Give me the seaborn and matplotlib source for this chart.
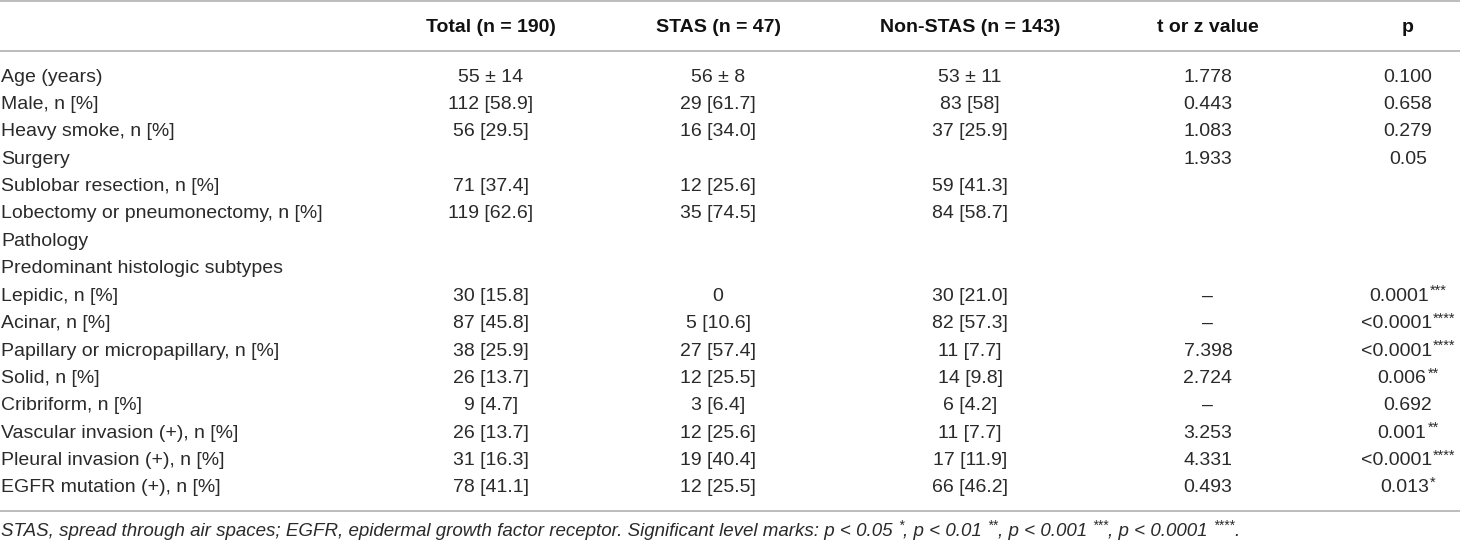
import matplotlib
matplotlib.use("Agg")
import matplotlib.pyplot as plt
import seaborn as sns

sns.set_theme(style="white")
plt.rcParams['font.family'] = ['Liberation Sans', 'DejaVu Sans']

# ---------------- data ----------------
headers = ["Total (n = 190)", "STAS (n = 47)", "Non-STAS (n = 143)", "t or z value", "p"]
row_labels = [
    "Age (years)", "Male, n [%]", "Heavy smoke, n [%]", "Surgery",
    "Sublobar resection, n [%]", "Lobectomy or pneumonectomy, n [%]",
    "Pathology", "Predominant histologic subtypes", "Lepidic, n [%]",
    "Acinar, n [%]", "Papillary or micropapillary, n [%]", "Solid, n [%]",
    "Cribriform, n [%]", "Vascular invasion (+), n [%]",
    "Pleural invasion (+), n [%]", "EGFR mutation (+), n [%]",
]
total = ["55 ± 14", "112 [58.9]", "56 [29.5]", "", "71 [37.4]", "119 [62.6]", "", "",
         "30 [15.8]", "87 [45.8]", "38 [25.9]", "26 [13.7]", "9 [4.7]", "26 [13.7]",
         "31 [16.3]", "78 [41.1]"]
stas = ["56 ± 8", "29 [61.7]", "16 [34.0]", "", "12 [25.6]", "35 [74.5]", "", "",
        "0", "5 [10.6]", "27 [57.4]", "12 [25.5]", "3 [6.4]", "12 [25.6]",
        "19 [40.4]", "12 [25.5]"]
non_stas = ["53 ± 11", "83 [58]", "37 [25.9]", "", "59 [41.3]", "84 [58.7]", "", "",
            "30 [21.0]", "82 [57.3]", "11 [7.7]", "14 [9.8]", "6 [4.2]", "11 [7.7]",
            "17 [11.9]", "66 [46.2]"]
stat_values = ["1.778", "0.443", "1.083", "1.933", "", "", "", "",
               "–", "–", "7.398", "2.724", "–", "3.253", "4.331", "0.493"]
p_values = ["0.100", "0.658", "0.279", "0.05", "", "", "", "",
            "0.0001", "<0.0001", "<0.0001", "0.006", "0.692", "0.001", "<0.0001", "0.013"]
p_marks = ["", "", "", "", "", "", "", "",
           "***", "****", "****", "**", "", "**", "****", "*"]
footnote_parts = [
    ("STAS, spread through air spaces; EGFR, epidermal growth factor receptor. "
     "Significant level marks: p < 0.05 ", False), ("*", True), (", p < 0.01 ", False),
    ("**", True), (", p < 0.001 ", False), ("***", True), (", p < 0.0001 ", False),
    ("****", True), (".", False),
]

# ---------------- layout ----------------
W, H = 1460, 543
fig = plt.figure(figsize=(W / 100, H / 100), dpi=100)
ax = fig.add_axes([0, 0, 1, 1])
ax.set_xlim(0, W)
ax.set_ylim(H, 0)
ax.axis("off")

col_x = [491, 718, 970, 1208, 1408]
label_x = 1
header_y = 27
row_y0 = 77
row_dy = 27.4
line_color = "#b0b0b0"
txt_color = "#2a2a2a"
fs = 14
fs_sup = 10.5

for yl in (1, 51, 511):
    ax.axhline(yl, color=line_color, lw=1.2)

for x, h in zip(col_x, headers):
    ax.text(x, header_y, h, ha="center", va="center", fontsize=fs,
            fontweight="bold", color="#111111")

fig.canvas.draw()
rend = fig.canvas.get_renderer()

def width(txt):
    return txt.get_window_extent(rend).width

for i, lab in enumerate(row_labels):
    y = row_y0 + i * row_dy
    ax.text(label_x, y, lab, ha="left", va="center", fontsize=fs, color=txt_color)
    for x, col in zip(col_x[:4], (total, stas, non_stas, stat_values)):
        if col[i]:
            ax.text(x, y, col[i], ha="center", va="center", fontsize=fs, color=txt_color)
    if p_values[i]:
        t_main = ax.text(0, y, p_values[i], ha="left", va="center", fontsize=fs,
                         color=txt_color)
        w1 = width(t_main)
        w2 = 0
        t_star = None
        if p_marks[i]:
            t_star = ax.text(0, y - 5, p_marks[i], ha="left", va="center",
                             fontsize=fs_sup, color=txt_color)
            w2 = width(t_star) + 1
        x0 = col_x[4] - (w1 + w2) / 2
        t_main.set_x(x0)
        if t_star is not None:
            t_star.set_x(x0 + w1 + 1)

# footnote
fy = 531
x = label_x
for txt, sup in footnote_parts:
    if sup:
        t = ax.text(x, fy - 5, txt, ha="left", va="center", fontsize=fs_sup - 0.5,
                    style="italic", color=txt_color)
    else:
        t = ax.text(x, fy, txt, ha="left", va="center", fontsize=13.5,
                    style="italic", color=txt_color)
    x += width(t)

fig.savefig("out.png", dpi=100)
